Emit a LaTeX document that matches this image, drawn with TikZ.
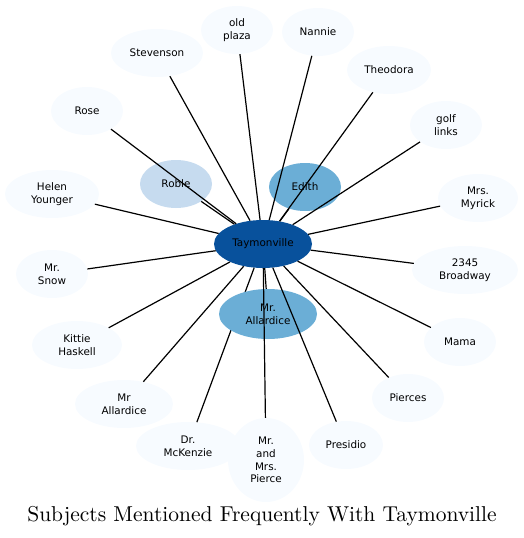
\documentclass[tikz,border=0pt]{standalone}
\usepackage{fontspec}
\setsansfont{DejaVu Sans}
\newfontfamily\titlefont{lmroman10-regular}[Extension=.otf]
\usepackage{tikz}
\usetikzlibrary{shapes.geometric}
\definecolor{bluedark}{HTML}{08519C}
\definecolor{bluemid}{HTML}{6BAED6}
\definecolor{bluelight}{HTML}{C6DBEF}
\definecolor{bluepale}{HTML}{F7FBFF}
\tikzset{
  subj/.style={ellipse,fill=bluepale,draw=none,inner sep=0pt,align=center,
    minimum width=72pt,minimum height=48pt,
    font=\sffamily\fontsize{10.4}{12.6}\selectfont},
  hub/.style={subj,fill=bluedark,minimum width=98pt},
  near/.style={subj,fill=bluemid},
  link/.style={line width=1.2pt,black}
}

\begin{document}
\begin{tikzpicture}[x=1pt,y=-1pt]
  \useasboundingbox (0,0) rectangle (524,538);
  % outer ring of subjects
  \node[subj] (oldplaza) at (237,30) {old\\plaza};
  \node[subj] (nannie) at (318,32) {Nannie};
  \node[subj,minimum width=92pt] (stevenson) at (157,53) {Stevenson};
  \node[subj,minimum width=84pt] (theodora) at (389,70) {Theodora};
  \node[subj] (rose) at (87,111) {Rose};
  \node[subj] (golflinks) at (446,125) {golf\\links};
  \node[subj,minimum width=94pt] (helen) at (52,194) {Helen\\Younger};
  \node[subj,minimum width=80pt] (myrick) at (478,198) {Mrs.\\Myrick};
  \node[subj] (snow) at (52,274) {Mr.\\Snow};
  \node[subj,minimum width=106pt] (broadway) at (465,270) {2345\\Broadway};
  \node[subj,minimum width=90pt] (kittie) at (77,345) {Kittie\\Haskell};
  \node[subj] (mama) at (460,342) {Mama};
  \node[subj,minimum width=98pt] (mrallardice) at (124,404) {Mr\\Allardice};
  \node[subj] (pierces) at (408,398) {Pierces};
  \node[subj,minimum width=104pt] (mckenzie) at (188,446) {Dr.\\McKenzie};
  \node[subj,minimum width=76pt,minimum height=84pt] (mrsmrs) at (266,460) {Mr.\\and\\Mrs.\\Pierce};
  \node[subj,minimum width=74pt] (presidio) at (346,445) {Presidio};
  % inner subjects and hub
  \node[subj,fill=bluelight] (roble) at (176,184) {Roble};
  \node[near] (edith) at (305,187) {Edith};
  \node[hub] (taym) at (263,244) {Taymonville};
  \draw[link] (taym) -- (mckenzie);
  \node[near,minimum width=98pt,minimum height=50pt] (allardice) at (268,314) {Mr.\\Allardice};
  % spokes
  \foreach \s in {oldplaza,nannie,stevenson,theodora,rose,golflinks,helen,myrick,
    snow,broadway,kittie,mama,mrallardice,pierces,mrsmrs,presidio,roble,edith,allardice}
    \draw[link] (taym) -- (\s);
  \node[font=\titlefont\fontsize{21.5}{24}\selectfont] (title) at (262,516) {Subjects Mentioned Frequently With Taymonville};
\end{tikzpicture}
\end{document}
